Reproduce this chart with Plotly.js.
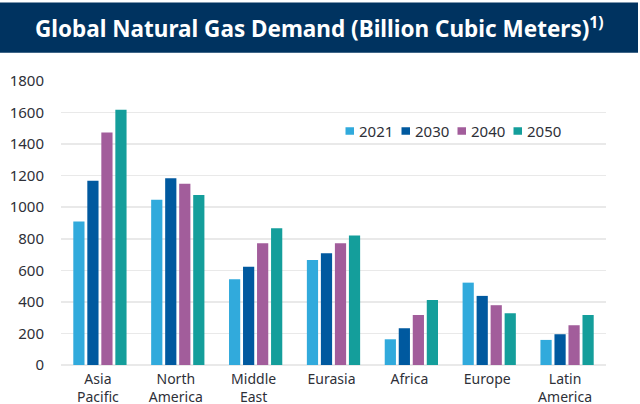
<!DOCTYPE html>
<html><head><meta charset="utf-8">
<script src="https://cdn.plot.ly/plotly-3.0.1.min.js"></script>
<style>html,body{margin:0;padding:0;background:#fff}#c{width:640px;height:404px}</style></head>
<body><div id="c"></div>
<script>
const regions = ["Asia<br>Pacific","North<br>America","Middle<br>East","Eurasia","Africa","Europe","Latin<br>America"];
const y2021 = [909,1048,544,666,163,522,159];
const y2030 = [1167,1184,622,709,233,438,195];
const y2040 = [1474,1148,772,772,317,379,252];
const y2050 = [1618,1078,867,820,412,328,317];
const yearNames = ["2021","2030","2040","2050"];
const yearColors = ["#31aadc","#00599f","#a25d9b","#149e9b"];
const series = [y2021,y2030,y2040,y2050];
const font = "'Noto Sans', 'Open Sans', sans-serif";
const ink = "#2e3038";
const traces = series.map((v,i)=>({type:"bar",name:yearNames[i],x:regions,y:v,marker:{color:yearColors[i]},hoverinfo:"skip"}));
const px = x => (x-61)/545, py = y => (365-y)/283.7;
const keyShapes = yearNames.map((n,i)=>({type:"rect",xref:"paper",yref:"paper",x0:px(345.5+i*56),x1:px(354+i*56),y0:py(135),y1:py(127.5),fillcolor:yearColors[i],line:{width:0}}));
const keyTexts = yearNames.map((n,i)=>({text:n,xref:"paper",yref:"paper",x:px(359+i*56),y:py(131.5),xanchor:"left",yanchor:"middle",showarrow:false,font:{family:font,size:15,color:ink},xshift:-2}));
Plotly.newPlot("c",traces,{
  width:640,height:404,
  margin:{l:61,r:34,t:81.3,b:39,pad:0},
  paper_bgcolor:"#fff",plot_bgcolor:"#fff",
  barmode:"group",bargap:0.28,bargroupgap:0.2,showlegend:false,
  title:{text:"<b>Global Natural Gas Demand (Billion Cubic Meters)<sup>1)</sup></b>",
    font:{family:font,size:22.5,color:"#fff"},x:0.499,xanchor:"center",xref:"container",y:0.928,yanchor:"middle",yref:"container"},
  shapes:[{type:"rect",xref:"paper",yref:"paper",layer:"below",x0:-61/545,x1:577/545,y0:py(53),y1:py(3),fillcolor:"#003360",line:{width:0}}].concat(keyShapes),
  annotations:keyTexts,
  xaxis:{type:"category",tickfont:{family:font,size:14,color:ink},ticks:"outside",ticklen:1,tickcolor:"rgba(0,0,0,0)",ticklabelshift:-2,showline:false,showgrid:false,automargin:false},
  yaxis:{range:[0,1800],dtick:200,tickfont:{family:font,size:15,color:ink},ticks:"outside",ticklen:13,tickcolor:"rgba(0,0,0,0)",showline:false,gridcolor:"#e9e9e9",gridwidth:1.5,zeroline:true,zerolinecolor:"#e9e9e9",zerolinewidth:1.5,automargin:false,tickformat:"d"}
},{displayModeBar:false,staticPlot:true});
</script></body></html>
